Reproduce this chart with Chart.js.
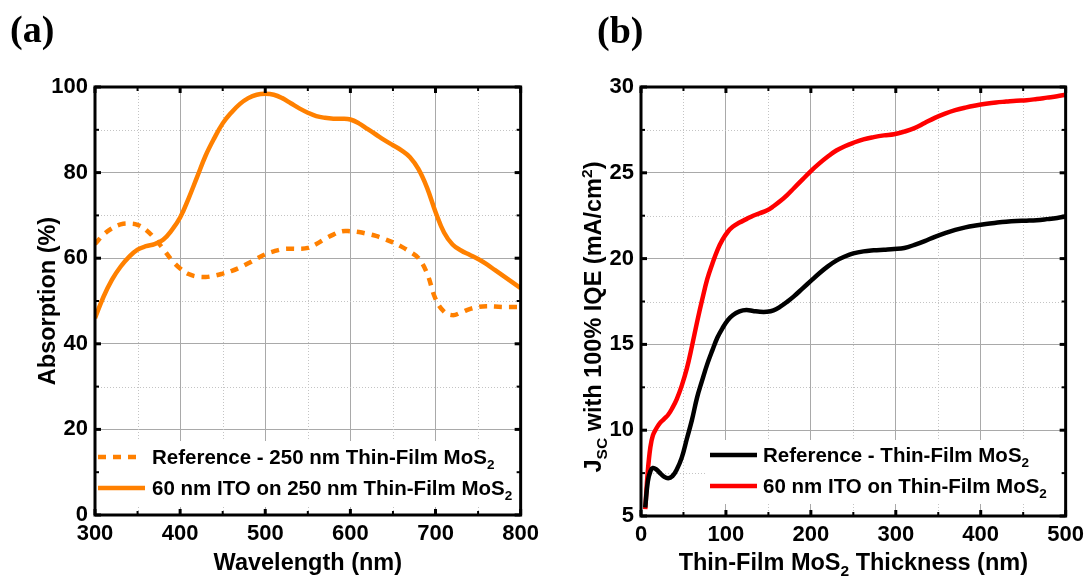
<!DOCTYPE html>
<html>
<head>
<meta charset="utf-8">
<script src="https://cdn.jsdelivr.net/npm/chart.js@4.4.0/dist/chart.umd.min.js"></script>
<style>
  html, body { margin: 0; padding: 0; background: #fff; }
  #wrap { position: relative; width: 1090px; height: 577px; overflow: hidden; background: #fff; }
  canvas { position: absolute; top: 0; }
  #chartA { left: 0; }
  #chartB { left: 545px; }
</style>
</head>
<body>
<div id="wrap">
  <canvas id="chartA" width="545" height="577" style="width:545px;height:577px"></canvas>
  <canvas id="chartB" width="545" height="577" style="width:545px;height:577px"></canvas>
</div>
<script>
// ---------- Panel (a): absorption spectra ----------
const wavelengthNm = [300,310,320,330,340,350,360,370,380,390,400,410,420,430,440,450,460,470,480,490,
  500,510,520,530,540,550,560,570,580,590,600,610,620,630,640,650,660,670,680,690,
  700,710,720,730,740,750,760,770,780,790,800];
const absorptionReference = [63.3,65.5,67.0,67.9,68.1,67.8,66.6,64.6,62.2,59.6,57.6,56.3,55.7,55.6,55.9,56.4,57.0,57.8,58.8,59.9,
  60.9,61.6,62.1,62.2,62.2,62.4,63.3,64.5,65.5,66.3,66.3,66.1,65.7,65.2,64.5,63.7,62.7,61.5,60.0,56.5,
  50.5,47.5,46.7,47.3,48.1,48.6,48.8,48.7,48.6,48.6,48.6];
const absorptionIto = [46.0,51.0,55.0,58.0,60.3,62.0,62.8,63.3,64.3,66.5,69.5,74.0,79.0,84.0,88.0,91.5,94.0,96.0,97.4,98.2,
  98.4,98.2,97.4,96.2,95.0,94.0,93.2,92.8,92.6,92.6,92.4,91.5,90.2,88.9,87.6,86.4,85.2,83.6,80.8,76.5,
  70.8,66.0,63.2,61.8,60.8,59.8,58.6,57.2,55.8,54.4,53.0];
const wavelengthTicks = [300,400,500,600,700,800];
const absorptionTicks = [0,20,40,60,80,100];

// ---------- Panel (b): short-circuit current vs. film thickness ----------
const thicknessNm = [5,8,11,14,18,22,27,32,37,42,48,54,60,66,72,78,84,90,96,102,108,116,124,132,140,148,156,164,172,180,
  190,200,210,220,230,240,250,262,274,286,298,310,322,334,346,358,370,382,394,406,418,430,442,454,466,478,490,500];
const jscReference = [5.5,7.0,7.6,7.8,7.72,7.52,7.3,7.2,7.32,7.7,8.4,9.5,10.6,11.9,12.9,13.85,14.65,15.4,15.95,16.4,16.7,16.92,17.0,16.95,16.9,16.9,16.98,17.2,17.48,17.8,
  18.25,18.7,19.15,19.55,19.88,20.12,20.3,20.42,20.48,20.52,20.56,20.62,20.8,21.02,21.27,21.48,21.67,21.82,21.93,22.02,22.09,22.15,22.19,22.21,22.24,22.3,22.37,22.45];
const jscIto = [5.4,7.6,9.0,9.7,10.1,10.4,10.65,10.9,11.3,11.8,12.6,13.6,14.9,16.3,17.6,18.8,19.7,20.5,21.1,21.55,21.85,22.1,22.3,22.5,22.65,22.8,23.05,23.35,23.7,24.1,
  24.6,25.1,25.55,25.95,26.3,26.55,26.75,26.95,27.08,27.18,27.25,27.4,27.6,27.9,28.2,28.45,28.65,28.8,28.92,29.02,29.1,29.15,29.2,29.23,29.3,29.38,29.46,29.55];
const thicknessTicks = [0,100,200,300,400,500];
const jscTicks = [5,10,15,20,25,30];

const ORANGE = '#ff8000';
const SANS = '"Liberation Sans", Arial, Helvetica, sans-serif';
const SERIF = '"Liberation Serif", "Times New Roman", serif';
const LEGEND_SIZE = 20.5;

const toPoints = (xs, ys) => xs.map((x, i) => ({ x, y: ys[i] }));
const midpoints = arr => arr.slice(1).map((v, i) => (v + arr[i]) / 2);

// Text made of normal / subscript / superscript runs.
function richWidth(ctx, parts, size) {
  let w = 0;
  for (const p of parts) {
    const s = p.s ? size * 0.66 : size;
    ctx.font = `bold ${s}px ${SANS}`;
    w += ctx.measureText(p.t).width;
  }
  return w;
}
function drawRich(ctx, parts, x, yMid, size, align) {
  const w = richWidth(ctx, parts, size);
  let cx = align === 'left' ? x : x - w / 2;
  const base = yMid + size * 0.36;
  ctx.textBaseline = 'alphabetic';
  ctx.textAlign = 'left';
  for (const p of parts) {
    const s = p.s ? size * 0.66 : size;
    ctx.font = `bold ${s}px ${SANS}`;
    let y = base;
    if (p.s === 'sub') y += size * 0.22;
    if (p.s === 'sup') y -= size * 0.4;
    ctx.fillText(p.t, cx, y);
    cx += ctx.measureText(p.t).width;
  }
}

function makeDecor(cfg) {
  return {
    id: 'decor',
    beforeDatasetsDraw(chart) {
      const { ctx, chartArea: a, scales: { x, y } } = chart;
      ctx.save();
      ctx.strokeStyle = '#c4c4c4';
      ctx.lineWidth = 1;
      ctx.setLineDash([1, 2]);
      for (const v of midpoints(cfg.xTicks)) {
        const px = Math.round(x.getPixelForValue(v)) + 0.5;
        ctx.beginPath(); ctx.moveTo(px, a.top); ctx.lineTo(px, a.bottom); ctx.stroke();
      }
      for (const v of midpoints(cfg.yTicks)) {
        const py = Math.round(y.getPixelForValue(v)) + 0.5;
        ctx.beginPath(); ctx.moveTo(a.left, py); ctx.lineTo(a.right, py); ctx.stroke();
      }
      ctx.restore();
    },
    afterDatasetsDraw(chart) {
      const { ctx, chartArea: a, scales: { x, y } } = chart;
      const lg = cfg.legend;
      ctx.save();
      // legend
      ctx.fillStyle = '#fff';
      ctx.fillRect(lg.box[0], lg.box[1], lg.box[2], lg.box[3]);
      lg.items.forEach((it, i) => {
        const yy = lg.rows[i];
        ctx.strokeStyle = it.color;
        ctx.lineWidth = 4.5;
        ctx.lineCap = 'butt';
        ctx.setLineDash(it.dash || []);
        ctx.beginPath(); ctx.moveTo(lg.x0, yy); ctx.lineTo(it.dash ? lg.x0 + 38 : lg.x1, yy); ctx.stroke();
        ctx.setLineDash([]);
        ctx.fillStyle = '#000';
        drawRich(ctx, it.parts, lg.tx, yy, LEGEND_SIZE, 'left');
      });
      // tick marks pointing inward on all four sides
      ctx.strokeStyle = '#000';
      const tick = (vals, len, w) => {
        ctx.lineWidth = w;
        for (const v of vals) {
          const px = x.getPixelForValue(v);
          ctx.beginPath(); ctx.moveTo(px, a.bottom); ctx.lineTo(px, a.bottom - len); ctx.stroke();
          ctx.beginPath(); ctx.moveTo(px, a.top); ctx.lineTo(px, a.top + len); ctx.stroke();
        }
      };
      const ytick = (vals, len, w) => {
        ctx.lineWidth = w;
        for (const v of vals) {
          const py = y.getPixelForValue(v);
          ctx.beginPath(); ctx.moveTo(a.left, py); ctx.lineTo(a.left + len, py); ctx.stroke();
          ctx.beginPath(); ctx.moveTo(a.right, py); ctx.lineTo(a.right - len, py); ctx.stroke();
        }
      };
      tick(cfg.xTicks, 6, 3);
      tick(midpoints(cfg.xTicks), 4, 2);
      ytick(cfg.yTicks, 6, 3);
      ytick(midpoints(cfg.yTicks), 4, 2);
      // frame
      ctx.lineWidth = 3;
      ctx.strokeRect(a.left, a.top, a.right - a.left, a.bottom - a.top);
      ctx.restore();
    },
    afterDraw(chart) {
      const { ctx, chartArea: a } = chart;
      ctx.save();
      ctx.fillStyle = '#000';
      drawRich(ctx, cfg.xTitle, (a.left + a.right) / 2, cfg.xTitleY, 23.5, 'center');
      ctx.translate(cfg.yTitleX, cfg.yTitleY);
      ctx.rotate(-Math.PI / 2);
      drawRich(ctx, cfg.yTitle, 0, 0, 23.5, 'center');
      ctx.restore();
      ctx.save();
      ctx.fillStyle = '#000';
      ctx.font = `bold 38px ${SERIF}`;
      ctx.textAlign = 'left';
      ctx.textBaseline = 'alphabetic';
      ctx.fillText(cfg.tag[0], cfg.tag[1], cfg.tag[2]);
      ctx.restore();
    }
  };
}

function buildPanel(id, cfg) {
  const tickFont = { family: SANS, size: 22, weight: 'bold' };
  return new Chart(document.getElementById(id), {
    type: 'line',
    data: { datasets: cfg.datasets },
    options: {
      responsive: false,
      animation: false,
      events: [],
      layout: { padding: { top: cfg.padTop, right: cfg.padRight, left: 0, bottom: 0 } },
      plugins: { legend: { display: false }, tooltip: { enabled: false } },
      elements: { point: { radius: 0 }, line: { tension: 0.4, borderCapStyle: 'butt', borderJoinStyle: 'round' } },
      scales: {
        x: {
          type: 'linear', min: cfg.xTicks[0], max: cfg.xTicks[cfg.xTicks.length - 1],
          afterBuildTicks: s => { s.ticks = cfg.xTicks.map(v => ({ value: v })); },
          afterFit: s => { s.height = cfg.xAxisH; },
          ticks: { font: tickFont, color: '#000', padding: 6, maxRotation: 0, autoSkip: false },
          grid: { color: '#a9a9a9', lineWidth: 1, drawTicks: false },
          border: { display: false }
        },
        y: {
          type: 'linear', min: cfg.yTicks[0], max: cfg.yTicks[cfg.yTicks.length - 1],
          afterBuildTicks: s => { s.ticks = cfg.yTicks.map(v => ({ value: v })); },
          afterFit: s => { s.width = cfg.yAxisW; },
          ticks: { font: tickFont, color: '#000', padding: 7, autoSkip: false },
          grid: { color: '#a9a9a9', lineWidth: 1, drawTicks: false },
          border: { display: false }
        }
      }
    },
    plugins: [makeDecor(cfg)]
  });
}

buildPanel('chartA', {
  datasets: [
    { data: toPoints(wavelengthNm, absorptionReference), borderColor: ORANGE, borderWidth: 4.5, borderDash: [8, 7], fill: false },
    { data: toPoints(wavelengthNm, absorptionIto), borderColor: ORANGE, borderWidth: 4.5, fill: false }
  ],
  xTicks: wavelengthTicks, yTicks: absorptionTicks,
  padTop: 87, padRight: 24, yAxisW: 95, xAxisH: 62,
  xTitle: [{ t: 'Wavelength (nm)' }], xTitleY: 562,
  yTitle: [{ t: 'Absorption (%)' }], yTitleX: 47, yTitleY: 301,
  legend: {
    box: [97, 441, 422, 66], rows: [457, 488], x0: 98, x1: 145, tx: 152,
    items: [
      { color: ORANGE, dash: [8, 7], parts: [{ t: 'Reference - 250 nm Thin-Film MoS' }, { t: '2', s: 'sub' }] },
      { color: ORANGE, parts: [{ t: '60 nm ITO on 250 nm Thin-Film MoS' }, { t: '2', s: 'sub' }] }
    ]
  },
  tag: ['(a)', 10, 42]
});

buildPanel('chartB', {
  datasets: [
    { data: toPoints(thicknessNm, jscReference), borderColor: '#000000', borderWidth: 4.5, fill: false },
    { data: toPoints(thicknessNm, jscIto), borderColor: '#ff0000', borderWidth: 4.5, fill: false }
  ],
  xTicks: thicknessTicks, yTicks: jscTicks,
  padTop: 87, padRight: 22, yAxisW: 96, xAxisH: 61,
  xTitle: [{ t: 'Thin-Film MoS' }, { t: '2', s: 'sub' }, { t: ' Thickness (nm)' }], xTitleY: 562,
  yTitle: [{ t: 'J' }, { t: 'SC', s: 'sub' }, { t: ' with 100% IQE (mA/cm' }, { t: '2', s: 'sup' }, { t: ')' }],
  yTitleX: 48, yTitleY: 317,
  legend: {
    box: [160, 440, 360, 64], rows: [455, 486], x0: 165, x1: 212, tx: 218,
    items: [
      { color: '#000000', parts: [{ t: 'Reference - Thin-Film MoS' }, { t: '2', s: 'sub' }] },
      { color: '#ff0000', parts: [{ t: '60 nm ITO on Thin-Film MoS' }, { t: '2', s: 'sub' }] }
    ]
  },
  tag: ['(b)', 52, 43]
});
</script>
</body>
</html>
